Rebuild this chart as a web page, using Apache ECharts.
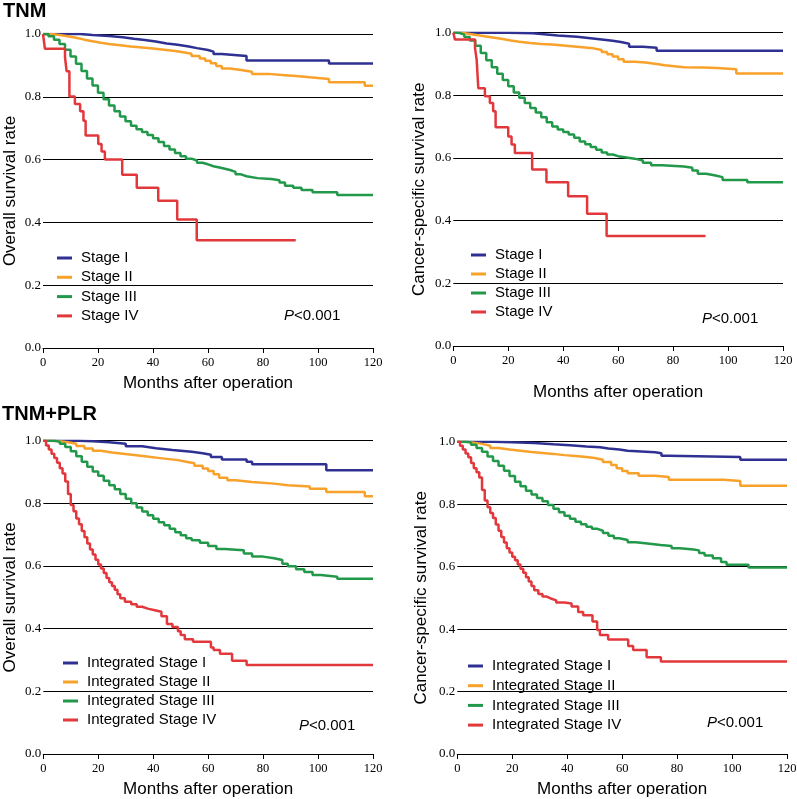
<!DOCTYPE html>
<html>
<head>
<meta charset="utf-8">
<script src="https://cdn.jsdelivr.net/npm/echarts@6/dist/echarts.min.js"></script>
<style>
html,body{margin:0;padding:0;background:#fff;}
#chart{width:797px;height:799px;}
</style>
</head>
<body>
<div id="chart"></div>
<script>
// ---------- DATA ----------
const panelTitles = ['TNM', 'TNM+PLR'];
const stageNamesTnm = ['Stage I', 'Stage II', 'Stage III', 'Stage IV'];
const stageNamesPlr = ['Integrated Stage I', 'Integrated Stage II', 'Integrated Stage III', 'Integrated Stage IV'];
const yTitles = ['Overall survival rate', 'Cancer-specific survival rate', 'Overall survival rate', 'Cancer-specific survival rate'];
const xTitle = 'Months after operation';
const pText = 'P<0.001';

// Panel A: TNM, overall survival  [months, survival]
const osTnmStage1 = [[0,1],[13.5,0.997],[18,0.994],[24,0.990],[29,0.985],[33,0.981],[37,0.976],[41,0.970],[45,0.966],[49,0.960],[53,0.955],[56,0.949],[60,0.944],[62,0.936],[65,0.930],[74,0.916],[104,0.906],[120,0.906]];
const osTnmStage2 = [[0,1],[3,0.997],[6,0.993],[9,0.988],[12,0.982],[15,0.977],[18,0.972],[21,0.968],[24,0.964],[28,0.960],[32,0.957],[36,0.954],[40,0.950],[44,0.946],[48,0.942],[51,0.937],[54,0.930],[57,0.922],[59,0.915],[61,0.907],[63,0.898],[65,0.890],[68,0.885],[72,0.880],[76,0.873],[82,0.869],[88,0.866],[92,0.862],[97,0.857],[104,0.846],[117,0.835],[120,0.835]];
const osTnmStage3 = [[0,1],[2,0.993],[4,0.982],[6,0.968],[8,0.950],[10,0.928],[12,0.905],[14,0.882],[16,0.858],[18,0.836],[20,0.813],[22,0.792],[24,0.772],[26,0.754],[28,0.737],[30,0.722],[32,0.708],[34,0.697],[36,0.688],[38,0.678],[40,0.668],[42,0.656],[44,0.643],[46,0.632],[48,0.621],[50,0.611],[52,0.603],[54,0.597],[56,0.590],[58,0.585],[60,0.579],[62,0.573],[65,0.567],[68,0.561],[70,0.553],[72,0.547],[74,0.541],[78,0.538],[83,0.534],[86,0.527],[88,0.517],[91,0.510],[94,0.503],[98,0.496],[107,0.487],[120,0.487]];
const osTnmStage4 = [[0,1],[0.7,0.953],[8,0.926],[8.6,0.881],[9.6,0.801],[11.6,0.777],[13.5,0.754],[14.7,0.724],[15.5,0.677],[20.1,0.650],[21.3,0.626],[22.5,0.600],[28.8,0.552],[34.1,0.510],[41.9,0.469],[48.8,0.409],[55.9,0.343],[91.9,0.343]];

// Panel B: TNM, cancer-specific survival
const cssTnmStage1 = [[0,1],[20,0.998],[29,0.995],[33,0.991],[38,0.987],[45,0.982],[50,0.978],[54,0.974],[58,0.970],[61,0.965],[64,0.955],[69,0.952],[74,0.942],[120,0.942]];
const cssTnmStage2 = [[0,1],[3,0.996],[6,0.992],[9,0.988],[12,0.984],[15,0.980],[18,0.975],[21,0.971],[24,0.967],[28,0.964],[32,0.962],[36,0.959],[40,0.956],[44,0.953],[48,0.950],[51,0.945],[54,0.938],[56,0.931],[58,0.924],[60,0.915],[62,0.907],[66,0.905],[70,0.900],[74,0.896],[77,0.890],[84,0.889],[91,0.887],[96,0.883],[103,0.870],[120,0.870]];
const cssTnmStage3 = [[0,1],[2,0.994],[4,0.986],[6,0.975],[8,0.958],[10,0.935],[12,0.912],[14,0.890],[16,0.869],[18,0.849],[20,0.829],[22,0.809],[24,0.792],[26,0.776],[28,0.760],[30,0.745],[32,0.730],[34,0.714],[36,0.701],[38,0.691],[40,0.683],[42,0.675],[44,0.665],[46,0.653],[48,0.644],[50,0.635],[52,0.626],[54,0.618],[56,0.611],[58,0.606],[60,0.602],[63,0.598],[66,0.592],[69,0.585],[72,0.577],[76,0.573],[84,0.569],[87,0.560],[89,0.550],[92,0.545],[95,0.539],[98,0.530],[107,0.523],[120,0.523]];
const cssTnmStage4 = [[0,1],[0.6,0.978],[7.9,0.951],[8.5,0.914],[9.1,0.823],[11.5,0.797],[13.3,0.776],[14.5,0.749],[15.4,0.698],[20,0.669],[21.2,0.643],[22.4,0.616],[28.7,0.563],[33.9,0.523],[41.8,0.478],[48.7,0.422],[55.8,0.351],[91.8,0.351]];

// Panel C: TNM+PLR, overall survival
const osPlrStage1 = [[0,1],[13,0.998],[18,0.995],[24,0.990],[30,0.982],[36,0.976],[41,0.970],[47,0.965],[54,0.960],[58,0.955],[61,0.948],[65,0.940],[74,0.933],[76,0.925],[103,0.906],[120,0.906]];
const osPlrStage2 = [[0,1],[3,0.998],[6,0.995],[9,0.990],[12,0.983],[15,0.975],[18,0.968],[21,0.962],[25,0.958],[29,0.954],[33,0.950],[37,0.946],[41,0.942],[45,0.938],[49,0.933],[52,0.928],[55,0.920],[58,0.911],[60,0.903],[62,0.893],[64,0.882],[67,0.874],[70,0.868],[76,0.863],[84,0.858],[89,0.854],[97,0.847],[103,0.836],[117,0.823],[120,0.823]];
const osPlrStage3 = [[0,1],[4,0.997],[6,0.990],[8,0.980],[10,0.966],[12,0.950],[14,0.933],[16,0.917],[18,0.902],[20,0.888],[22,0.872],[24,0.858],[26,0.845],[28,0.830],[30,0.815],[32,0.800],[34,0.787],[36,0.774],[38,0.762],[40,0.751],[42,0.740],[44,0.730],[46,0.719],[48,0.708],[50,0.698],[52,0.689],[54,0.682],[57,0.674],[60,0.664],[63,0.654],[66,0.652],[70,0.650],[73,0.640],[76,0.630],[80,0.625],[84,0.619],[87,0.607],[89,0.599],[92,0.590],[95,0.581],[98,0.571],[101,0.566],[107,0.559],[120,0.559]];
const osPlrStage4 = [[0,1],[1,0.985],[2,0.972],[3,0.958],[4,0.945],[5,0.930],[6,0.912],[7,0.895],[8,0.870],[9,0.830],[10,0.795],[11,0.775],[12,0.752],[13,0.733],[14,0.712],[15,0.692],[16,0.672],[17,0.653],[18,0.637],[19,0.620],[20,0.605],[21,0.592],[22,0.578],[23,0.562],[24,0.548],[25,0.536],[26,0.524],[27,0.510],[28,0.497],[29.7,0.486],[32,0.478],[34,0.470],[36,0.464],[38,0.458],[41,0.454],[43,0.440],[45,0.415],[47,0.405],[49,0.392],[50,0.380],[51.5,0.366],[54.5,0.358],[61,0.340],[62,0.332],[64.3,0.320],[68.7,0.298],[74,0.284],[120,0.284]];

// Panel D: TNM+PLR, cancer-specific survival
const cssPlrStage1 = [[0,1],[13,0.998],[20,0.996],[28,0.992],[35,0.989],[41,0.985],[47,0.982],[52,0.978],[55,0.975],[59,0.971],[62,0.966],[72,0.963],[74.3,0.955],[76.6,0.951],[103,0.942],[120,0.942]];
const cssPlrStage2 = [[0,1],[3,0.997],[6,0.993],[9,0.987],[12,0.980],[15,0.975],[19,0.971],[23,0.967],[27,0.964],[31,0.961],[35,0.957],[39,0.954],[43,0.951],[47,0.948],[50,0.942],[53,0.935],[56,0.925],[58,0.915],[60,0.906],[62,0.899],[66,0.891],[72,0.887],[77,0.878],[97,0.874],[103,0.859],[120,0.859]];
const cssPlrStage3 = [[0,1],[3,0.998],[5,0.990],[7,0.980],[9,0.968],[11,0.953],[13,0.938],[15,0.923],[17,0.907],[19,0.890],[21,0.872],[23,0.857],[25,0.843],[27,0.831],[29,0.820],[31,0.809],[33,0.797],[35,0.785],[37,0.774],[39,0.763],[41,0.753],[43,0.744],[45,0.736],[47,0.728],[49,0.721],[51,0.715],[53,0.708],[55,0.699],[57,0.691],[59,0.685],[62,0.678],[65,0.673],[70,0.669],[74,0.666],[78,0.659],[81,0.655],[86,0.652],[88,0.644],[90,0.636],[93,0.627],[96,0.615],[98,0.606],[106,0.597],[120,0.597]];
const cssPlrStage4 = [[0,1],[1,0.987],[2,0.975],[3,0.962],[4,0.950],[5,0.932],[6,0.915],[7,0.902],[8,0.885],[9,0.845],[10,0.812],[11,0.790],[12,0.772],[13,0.756],[14,0.735],[15,0.715],[16,0.695],[17,0.677],[18,0.659],[19,0.645],[20,0.632],[21,0.620],[22,0.607],[23,0.593],[24,0.580],[25,0.566],[26,0.552],[27,0.538],[28,0.524],[29.5,0.512],[31,0.504],[32.5,0.498],[34,0.492],[36,0.485],[39,0.482],[41.6,0.472],[44,0.455],[45.8,0.444],[49.2,0.424],[50.9,0.397],[51.9,0.381],[54.9,0.367],[62.2,0.346],[64,0.333],[68.9,0.310],[74.1,0.296],[120,0.296]];

// ---------- STYLE / LAYOUT ----------
const colors = ['#2e3192', '#f8a12b', '#22994a', '#e2383c'];
const panels = [
  {grid:{left:43, top:34, width:330, height:314}, names:stageNamesTnm, data:[osTnmStage1,osTnmStage2,osTnmStage3,osTnmStage4],
   xGap:26.5, yGap:24.5, legend:{left:57, top:250, gap:3.3}, p:{x:284, y:316}},
  {grid:{left:453.3, top:32.7, width:329.7, height:313.3}, names:stageNamesTnm, data:[cssTnmStage1,cssTnmStage2,cssTnmStage3,cssTnmStage4],
   xGap:37.5, yGap:25.8, legend:{left:471, top:247, gap:3}, p:{x:702, y:319}},
  {grid:{left:43.3, top:440.7, width:329.7, height:313.3}, names:stageNamesPlr, data:[osPlrStage1,osPlrStage2,osPlrStage3,osPlrStage4],
   xGap:26.5, yGap:24.8, legend:{left:63, top:655, gap:3}, p:{x:299, y:726}},
  {grid:{left:457.3, top:441.7, width:329.7, height:312.3}, names:stageNamesPlr, data:[cssPlrStage1,cssPlrStage2,cssPlrStage3,cssPlrStage4],
   xGap:26.5, yGap:27.8, legend:{left:468, top:658, gap:3.7}, p:{x:707, y:723}}
];

const chart = echarts.init(document.getElementById('chart'), null, {renderer:'canvas', width:797, height:799});

const option = {
  animation:false,
  backgroundColor:'#fff',
  grid:[], xAxis:[], yAxis:[], series:[], legend:[], graphic:[]
};

panels.forEach((p, i) => {
  option.grid.push(Object.assign({containLabel:false, outerBoundsMode:'none'}, p.grid));
  option.xAxis.push({
    type:'value', gridIndex:i, min:0, max:120, interval:20,
    axisLine:{show:true, lineStyle:{color:'#000', width:1}},
    axisTick:{show:true, length:5, lineStyle:{color:'#000', width:1}},
    axisLabel:{color:'#000', fontFamily:'Liberation Serif', fontSize:12.5, margin:8},
    splitLine:{show:false},
    name:xTitle, nameLocation:'middle', nameGap:p.xGap,
    nameTextStyle:{color:'#000', fontFamily:'Liberation Sans', fontSize:17}
  });
  option.yAxis.push({
    type:'value', gridIndex:i, min:0, max:1, interval:0.2,
    axisLine:{show:false}, axisTick:{show:false},
    axisLabel:{color:'#000', fontFamily:'Liberation Serif', fontSize:13, margin:2, formatter:v => v.toFixed(1)},
    splitLine:{show:true, lineStyle:{color:'#000', width:1}},
    name:yTitles[i], nameLocation:'middle', nameGap:p.yGap,
    nameTextStyle:{color:'#000', fontFamily:'Liberation Sans', fontSize:17}
  });
  p.data.forEach((d, k) => {
    option.series.push({
      type:'line', name:p.names[k], xAxisIndex:i, yAxisIndex:i, data:d,
      step:'end', showSymbol:false, symbol:'none',
      lineStyle:{color:colors[k], width:2.5}, itemStyle:{color:colors[k]},
      z:10 + k
    });
  });
  option.legend.push({
    orient:'vertical', left:p.legend.left, top:p.legend.top, itemGap:p.legend.gap, padding:0,
    icon:'rect', itemWidth:15, itemHeight:3, selectedMode:false,
    data:p.names,
    textStyle:{color:'#000', fontFamily:'Liberation Sans', fontSize:15, lineHeight:16, padding:[0,0,0,4]}
  });
  option.graphic.push({
    type:'text', x:p.p.x, y:p.p.y,
    style:{
      text:'{i|P}{n|' + pText.slice(1) + '}',
      verticalAlign:'middle', fill:'#000',
      rich:{
        i:{fontFamily:'Liberation Sans', fontSize:15, fontStyle:'italic', fill:'#000'},
        n:{fontFamily:'Liberation Sans', fontSize:15, fill:'#000'}
      }
    }
  });
});

option.graphic.push({type:'text', x:3, y:11, style:{text:panelTitles[0], font:'bold 20px "Liberation Sans"', fill:'#000', verticalAlign:'middle'}});
option.graphic.push({type:'text', x:2, y:414, style:{text:panelTitles[1], font:'bold 20px "Liberation Sans"', fill:'#000', verticalAlign:'middle'}});

chart.setOption(option);
</script>
</body>
</html>
